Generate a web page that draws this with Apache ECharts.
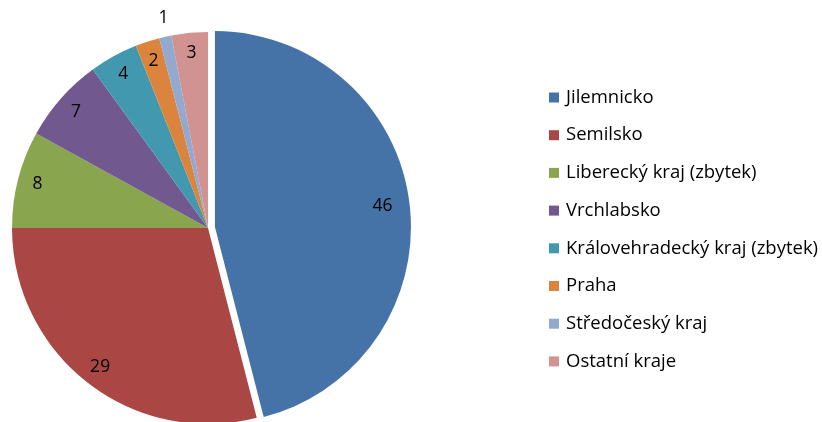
<!DOCTYPE html>
<html>
<head>
<meta charset="utf-8">
<script src="https://cdn.jsdelivr.net/npm/echarts@6/dist/echarts.min.js"></script>
<style>
  html, body { margin: 0; padding: 0; background: #fff; }
  #main { width: 822px; height: 422px; }
</style>
</head>
<body>
<div id="main"></div>
<script>
// podíly podle oblastí
var regions = ['Jilemnicko', 'Semilsko', 'Liberecký kraj (zbytek)', 'Vrchlabsko',
  'Královehradecký kraj (zbytek)', 'Praha', 'Středočeský kraj', 'Ostatní kraje'];
var values = [46, 29, 8, 7, 4, 2, 1, 3];
var colors = ['#4572A7', '#AA4643', '#89A54E', '#71588F', '#4198AF', '#DB843D', '#93A9CF', '#D19392'];

var font = '"Open Sans", Lato, sans-serif';

var pieData = regions.map(function (name, i) {
  return {
    name: name,
    value: values[i],
    selected: i === 0,
    itemStyle: { color: colors[i] },
    select: { itemStyle: { color: colors[i] } }
  };
});

// druhá (neviditelná) řada jen pro popisky blízko okraje
var labelData = regions.map(function (name, i) {
  var item = { name: name, value: values[i] };
  if (name === 'Středočeský kraj') {
    item.label = { offset: [-6, -38] };
  }
  return item;
});

var chart = echarts.init(document.getElementById('main'), null, { renderer: 'canvas' });
chart.setOption({
  animation: false,
  color: colors,
  legend: {
    orient: 'vertical',
    left: 544,
    top: 83,
    itemWidth: 10,
    itemHeight: 10,
    itemGap: 18.7,
    icon: 'rect',
    selectedMode: false,
    data: regions,
    textStyle: { fontFamily: font, fontSize: 18.5, color: '#000', padding: [0, 0, 0, 2] }
  },
  series: [
    {
      name: 'oblasti',
      type: 'pie',
      center: [208, 228],
      radius: [0, 196],
      startAngle: 90,
      selectedMode: 'single',
      selectedOffset: 7,
      label: { show: false },
      labelLine: { show: false },
      emphasis: { disabled: true },
      data: pieData
    },
    {
      name: 'popisky',
      type: 'pie',
      center: [208, 228],
      radius: [150, 196],
      startAngle: 90,
      silent: true,
      itemStyle: { color: 'rgba(0,0,0,0)' },
      label: {
        show: true,
        position: 'inside',
        formatter: '{c}',
        fontFamily: font,
        fontSize: 17.5,
        color: '#000'
      },
      labelLine: { show: false },
      emphasis: { disabled: true },
      data: labelData
    }
  ]
});
</script>
</body>
</html>
